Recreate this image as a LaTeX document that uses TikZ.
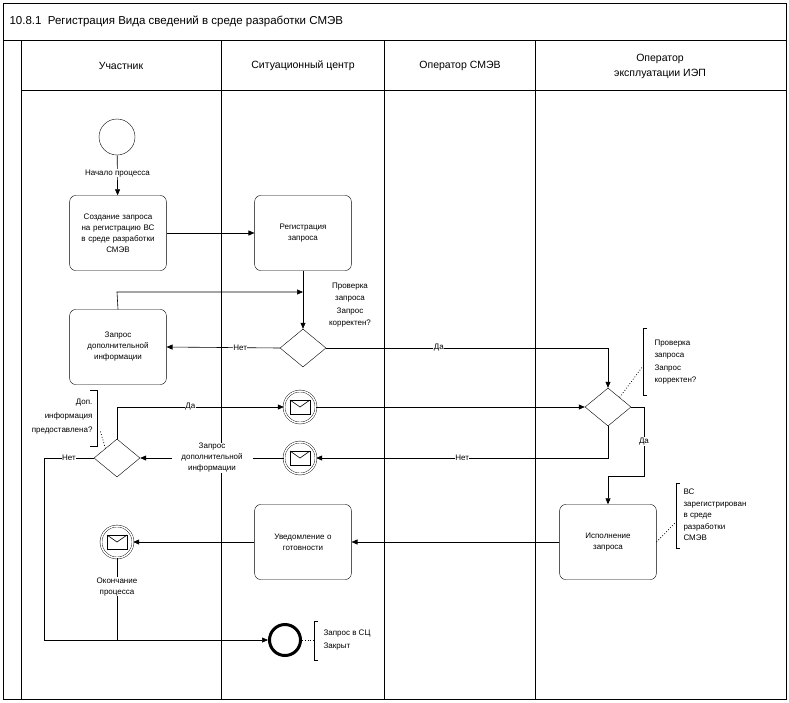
\documentclass[tikz,border=0pt]{standalone}
\usepackage{fontspec}
\setmainfont{Liberation Sans}
\usetikzlibrary{shapes.geometric,arrows.meta}
\begin{document}
\begin{tikzpicture}[x=1pt,y=-1pt,
  task/.style={draw,rounded corners=6pt,minimum width=94pt,minimum height=75pt,align=center,font=\fontsize{8}{11}\selectfont,text width=90pt},
  gw/.style={draw,diamond,minimum width=46pt,minimum height=38pt,inner sep=0pt,aspect=1.2},
  lbl/.style={font=\fontsize{8}{11}\selectfont,align=center,fill=white,inner sep=0.5pt},
  note/.style={font=\fontsize{8}{12.5}\selectfont,align=left},
  arr/.style={-{Triangle[length=6pt,width=5pt]},line width=0.6pt},
  ln/.style={line width=0.6pt},
  msg/.style={draw,circle,double,double distance=1.5pt,minimum size=32pt,inner sep=0pt},
  every node/.style={font=\fontsize{8}{11}\selectfont}]
\useasboundingbox (0,0) rectangle (789,702);
% frame
\draw[ln] (3,3) rectangle (786,699);
\draw[ln] (3,40) -- (786,40);
\draw[ln] (21,40) -- (21,699);
\draw[ln] (21,90) -- (786,90);
\foreach \x in {221,384,535} \draw[ln] (\x,40) -- (\x,699);
\node[anchor=west,font=\fontsize{11.5}{13}\selectfont] (title) at (6,21) {10.8.1\ \ Регистрация Вида сведений в среде разработки СМЭВ};
\node[font=\fontsize{10.5}{15}\selectfont] (h1) at (121,66) {Участник};
\node[font=\fontsize{10.5}{15}\selectfont] (h2) at (303,66) {Ситуационный центр};
\node[font=\fontsize{10.5}{15}\selectfont] (h3) at (460,66) {Оператор СМЭВ};
\node[font=\fontsize{10.5}{15}\selectfont,align=center] (h4) at (660,66) {Оператор\\эксплуатации ИЭП};
% nodes
\node[draw,circle,minimum size=36pt,inner sep=0pt] (start) at (117,137) {};
\node[task] (t1) at (118,233) {Создание запроса\\на регистрацию ВС\\в среде разработки\\СМЭВ};
\node[task] (t2) at (303,233) {Регистрация\\запроса};
\node[task] (t3) at (118,347) {Запрос\\дополнительной\\информации};
\node[gw] (g1) at (303,348) {};
\node[gw] (g2) at (608,407) {};
\node[gw] (g3) at (117,458) {};
\node[msg] (m1) at (300,407) {};
\node[msg] (m2) at (300,458) {};
\node[msg] (m3) at (117,542) {};
\foreach \m in {m1,m2,m3}{
  \draw[ln] ([shift={(-10,-7)}]\m.center) rectangle ([shift={(10,7)}]\m.center);
  \draw[ln] ([shift={(-10,-7)}]\m.center) -- (\m.center) -- ([shift={(10,-7)}]\m.center);
}
\node[task] (t4) at (608,542) {Исполнение\\запроса};
\node[task] (t5) at (303,542) {Уведомление о\\готовности};
\node[draw,circle,line width=3pt,minimum size=31pt,inner sep=0pt] (end) at (285,640) {};
% edges
\draw[arr] (start) -- node[lbl,pos=0.45] {Начало процесса} (t1);
\draw[arr] (t1) -- (t2);
\draw[arr] (t2) -- (g1);
\coordinate (c1) at (117,292);
\draw[arr] (t3.north) -- (c1) -- (303,292);
\draw[arr] (g1.west) -- node[lbl,pos=0.35] {Нет} (t3.east);
\draw[arr] (g1.east) -- node[lbl,pos=0.4] {Да} (608,348) -- (g2.north);
\draw[arr] (g3.north) |- node[lbl,pos=0.72] {Да} (m1.west);
\draw[arr] (m1) -- (g2.west);
\draw[arr] (g2.south) |- node[lbl,pos=0.75] {Нет} (m2.east);
\draw[arr] (m2.west) -- node[lbl,pos=0.5,text width=80pt] {Запрос\\дополнительной\\информации} (g3.east);
\draw[arr] (g3.west) -- node[lbl,pos=0.5] {Нет} (44,458) -- (44,640) -- (end.west);
\draw[arr] (g2.east) -- (644,407) -- node[lbl,pos=0.5] {Да} (644,476) -- (608,476) -- (t4.north);
\draw[arr] (t4) -- (t5);
\draw[arr] (t5) -- (m3);
\draw[ln] (m3.south) -- node[lbl,pos=0.35] {Окончание\\процесса} (117,640);
% annotations
\node[font=\fontsize{8}{12.5}\selectfont,align=center] (n1t) at (350,305) {Проверка\\запроса\\Запрос\\корректен?};
\draw[ln] (647,328) -- (643,328) -- (643,395) -- (647,395);
\node[note,anchor=west] (n2) at (651,362) {Проверка\\запроса\\Запрос\\корректен?};
\draw[dotted,line width=0.8pt] (g2.north east) -- (643,366);
\draw[ln] (90,390) -- (97,390) -- (97,446) -- (90,446);
\node[font=\fontsize{8}{14}\selectfont,align=right,anchor=east] (n3) at (96,417) {Доп.\\информация\\предоставлена?};
\draw[dotted,line width=0.8pt] (g3.north west) -- (100,430);
\draw[ln] (680,483) -- (676,483) -- (676,548) -- (680,548);
\node[note,anchor=west,font=\fontsize{8}{11.5}\selectfont] (n4) at (680,515) {ВС\\зарегистрирован\\в среде\\разработки\\СМЭВ};
\draw[dotted,line width=0.8pt] (t4.east) -- (676,522);
\draw[ln] (318,621) -- (314,621) -- (314,660) -- (318,660);
\node[note,anchor=west] (n5) at (320,640) {Запрос в СЦ\\Закрыт};
\draw[dotted,line width=0.8pt] (end.east) -- (314,640);
\end{tikzpicture}
\end{document}
